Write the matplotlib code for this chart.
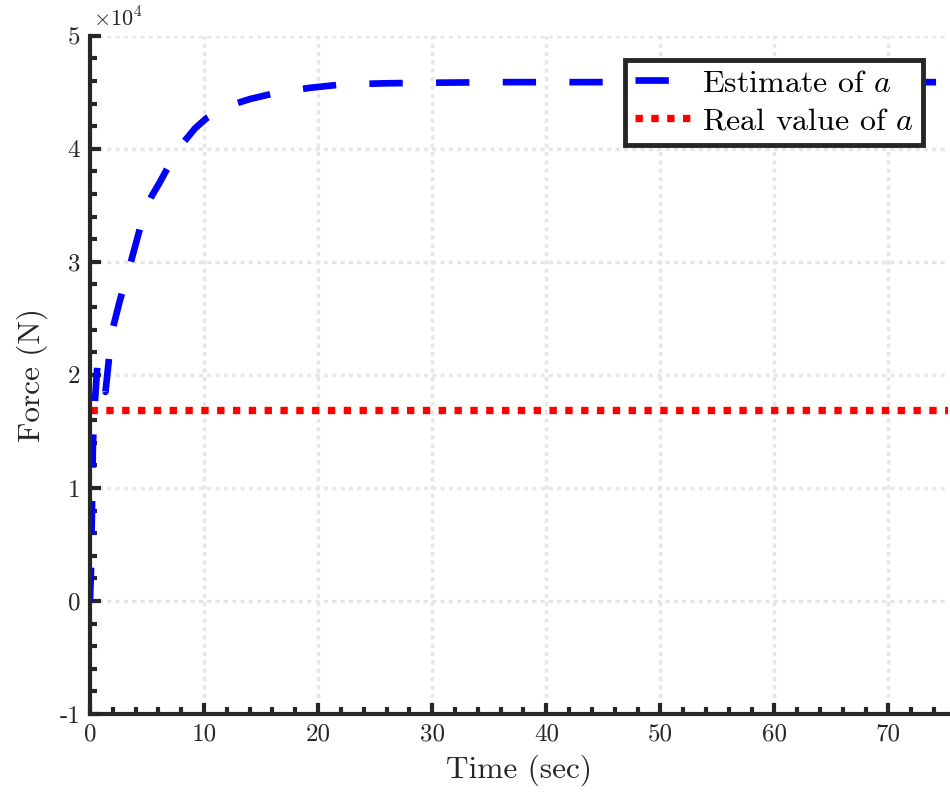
import numpy as np
import matplotlib
matplotlib.use("Agg")
import matplotlib.pyplot as plt
from matplotlib.ticker import FuncFormatter, MultipleLocator

plt.rcParams["font.family"] = "serif"
plt.rcParams["font.serif"] = ["cmr10", "DejaVu Serif"]
plt.rcParams["mathtext.fontset"] = "cm"

# --- Data ----------------------------------------------------------------
time_s = [0.0, 0.1, 0.26, 0.44, 0.66, 1.36, 1.9, 2.6, 3.4, 4.1, 4.8, 5.4,
          6.1, 6.8, 7.4, 8.3, 9.2, 10.2, 11.4, 12.6, 14.0, 16.5, 19.3, 22.1,
          26.0, 30.0, 36.0, 45.0, 55.0, 65.0, 75.5]
estimate_a = [0, 3000, 13900, 17700, 21000, 18500, 23700, 26500, 29300,
              31900, 34500, 35800, 37000, 38300, 39400, 40700, 41800, 42700,
              43400, 43950, 44400, 45000, 45400, 45700, 45800, 45850, 45900,
              45900, 45900, 45900, 45900]
real_a = 16900

# --- Plot -----------------------------------------------------------------
fig = plt.figure(figsize=(9.5, 7.96), dpi=100)
ax = fig.add_axes([0.0947, 0.103, 0.903, 0.852])

ax.plot(time_s, estimate_a, color="#0000ff", lw=4.8, ls=(0, (5.0, 5.0)),
        label=r"Estimate of $a$")
ax.axhline(real_a, color="#ff0000", lw=5.3, ls=(0, (1, 1.15)),
           label=r"Real value of $a$")

ax.set_xlim(0, 75.2)
ax.set_ylim(-10000, 50000)
ax.xaxis.set_major_locator(MultipleLocator(10))
ax.xaxis.set_minor_locator(MultipleLocator(2))
ax.yaxis.set_major_locator(MultipleLocator(10000))
ax.yaxis.set_minor_locator(MultipleLocator(2000))
ax.yaxis.set_major_formatter(FuncFormatter(lambda v, p: f"{v / 1e4:g}"))
ax.text(0.003, 1.008, r"$\times10^{4}$", transform=ax.transAxes,
        fontsize=16, color="#262626", ha="left", va="bottom")

for side in ("top", "right"):
    ax.spines[side].set_visible(False)
for side in ("left", "bottom"):
    ax.spines[side].set_linewidth(3)
    ax.spines[side].set_color("#262626")

ax.tick_params(which="both", direction="in", color="#262626",
               labelsize=18, labelcolor="#262626")
ax.tick_params(which="major", length=8, width=3, pad=7)
ax.tick_params(which="minor", length=5, width=3)

ax.grid(True, which="major", color="#e6e6e6", lw=2.5, ls=(0, (1.2, 1.2)))
ax.set_axisbelow(True)

ax.set_xlabel("Time (sec)", fontsize=22.5, color="#262626", labelpad=6)
ax.set_ylabel("Force (N)", fontsize=22.5, color="#262626", labelpad=8)

leg = ax.legend(loc="upper right", bbox_to_anchor=(0.971, 0.965),
                fontsize=23, fancybox=False, framealpha=1, edgecolor="#262626",
                handlelength=1.8, handletextpad=0.3, borderpad=0.3,
                labelspacing=0.3, borderaxespad=0)
leg.get_frame().set_linewidth(3.5)

fig.savefig("out.png", dpi=100)
